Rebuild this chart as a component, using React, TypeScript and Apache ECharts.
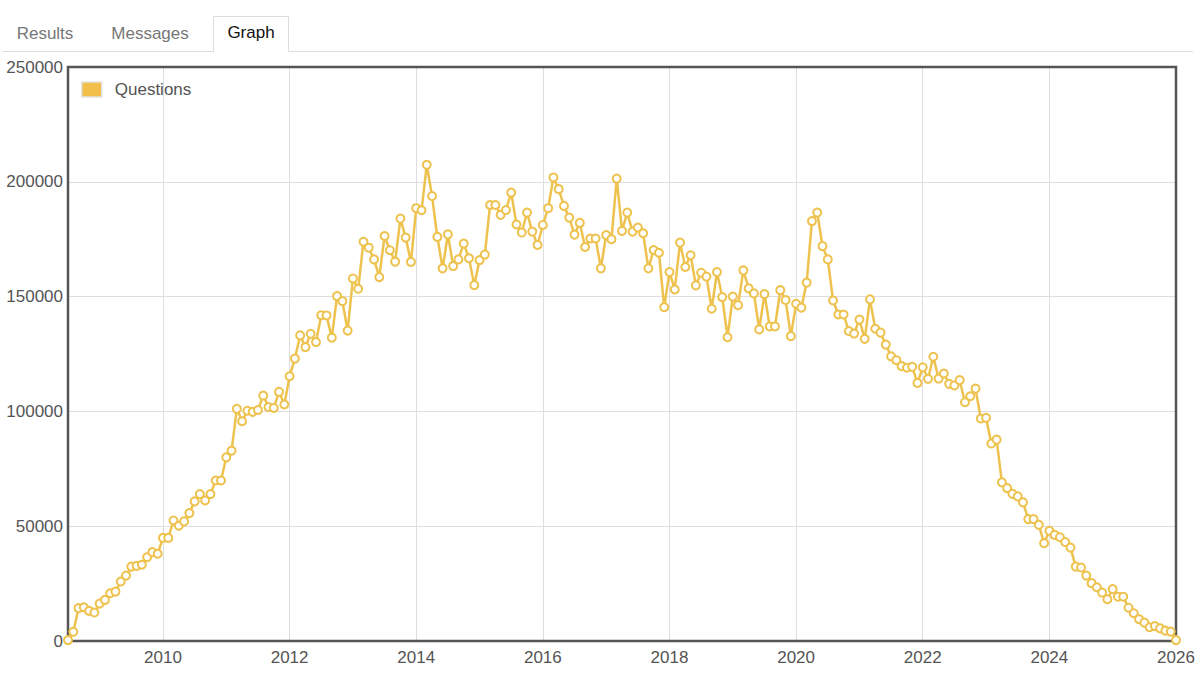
import React, { useEffect, useRef } from "react";
import * as echarts from "echarts";

// Monthly question counts, starting July 2008, ending January 2026
const startYear = 2008;
const startMonth = 7;
const questions: number[] = [
  // 2008 (Jul-Dec)
  400, 4000, 14300, 14700, 13100, 12400,
  // 2009
  16300, 17900, 20800, 21500, 25900, 28500, 32400, 32700, 33200, 36500, 38700, 38000,
  // 2010
  44900, 44900, 52500, 50200, 52100, 55700, 60800, 64000, 61200, 64000, 69900, 69900,
  // 2011
  80000, 82900, 101100, 95700, 100300, 99800, 100600, 106900, 101900, 101500, 108500, 103000,
  // 2012
  115300, 123000, 133100, 128000, 133800, 130200, 141900, 141800, 132100, 150200, 148000, 135200,
  // 2013
  157900, 153400, 173900, 171300, 166200, 158500, 176400, 170200, 165200, 184000, 175700, 165100,
  // 2014
  188500, 187600, 207400, 193800, 176000, 162300, 177100, 163300, 166200, 173100, 166700, 155000,
  // 2015
  165900, 168300, 189900, 189900, 185600, 187700, 195300, 181400, 177900, 186600, 178300, 172500,
  // 2016
  181200, 188500, 201900, 196800, 189500, 184400, 177000, 182100, 171600, 175300, 175300, 162300,
  // 2017
  176800, 175000, 201400, 178600, 186600, 178300, 180100, 177600, 162300, 170300, 169100, 145400,
  // 2018
  160700, 153100, 173500, 162900, 168000, 154900, 160400, 158700, 144700, 160700, 149800, 132300,
  // 2019
  150000, 146300, 161400, 153600, 151400, 135700, 151100, 137000, 137000, 152800, 148500, 132800,
  // 2020
  146900, 145200, 156100, 182900, 186600, 172000, 166200, 148300, 142200, 142200, 135000, 133900,
  // 2021
  140000, 131600, 148800, 136000, 134300, 129100, 124000, 122300, 119700, 119000, 119400, 112400,
  // 2022
  119200, 114200, 123800, 114300, 116500, 112000, 111300, 113600, 104000, 106600, 109900, 96900,
  // 2023
  97200, 86000, 87700, 69100, 66600, 64100, 63000, 60400, 53100, 53100, 50600, 42600,
  // 2024
  48000, 46200, 45200, 43100, 40700, 32400, 32000, 28500, 25200, 23400, 21100, 18200,
  // 2025
  22600, 19300, 19300, 14500, 12100, 9500, 8000, 6000, 6500, 5500, 4500, 4100,
  // 2026
  400,
];

const seriesName = "Questions";
const tabLabels = ["Results", "Messages", "Graph"];
const xMin = 2008.5;
const xMax = 2026;
const yMax = 250000;
const yStep = 50000;

const FONT = "'Liberation Sans', Arial, Helvetica, sans-serif";
const LINE_COLOR = "#eec24e";

const GRID_LEFT = 68;
const GRID_TOP = 67;
const GRID_RIGHT = 24;
const GRID_BOTTOM = 32;
const W = 1200;
const H = 673;

export default function App() {
  const ref = useRef<HTMLDivElement>(null);

  useEffect(() => {
    if (!ref.current) return;
    const chart = echarts.init(ref.current, undefined, { renderer: "svg" });

    const data = questions.map((v, i) => [startYear + (startMonth - 1 + i) / 12, v]);

    chart.setOption({
      animation: false,
      textStyle: { fontFamily: FONT },
      grid: {
        show: false,
        left: GRID_LEFT,
        top: GRID_TOP,
        right: GRID_RIGHT,
        bottom: GRID_BOTTOM,
      },
      legend: {
        show: true,
        left: 76,
        top: 76,
        icon: "rect",
        itemWidth: 20,
        itemHeight: 15,
        textStyle: { fontSize: 17, color: "#545454", fontFamily: FONT, padding: [0, 0, 0, 8] },
        data: [
          {
            name: seriesName,
            itemStyle: { color: "#f2c04a", borderColor: "#e2e2e2", borderWidth: 1.5 },
          },
        ],
      },
      xAxis: {
        type: "value",
        min: xMin,
        max: xMax,
        splitNumber: 9,
        minInterval: 2,
        maxInterval: 2,
        axisLine: { show: false },
        axisTick: { show: false },
        splitLine: { show: true, lineStyle: { color: "#dedede", width: 1 } },
        axisLabel: {
          showMinLabel: false,
          margin: 8,
          fontSize: 17,
          color: "#545454",
          fontFamily: FONT,
          formatter: (v: number) => (Number.isInteger(v) ? String(v) : ""),
        },
      },
      yAxis: {
        type: "value",
        min: 0,
        max: yMax,
        interval: yStep,
        axisLine: { show: false },
        axisTick: { show: false },
        splitLine: { show: true, lineStyle: { color: "#dedede", width: 1 } },
        axisLabel: {
          margin: 5,
          fontSize: 17,
          color: "#545454",
          fontFamily: FONT,
          formatter: (v: number) => String(v),
        },
      },
      series: [
        {
          name: seriesName,
          type: "line",
          data,
          clip: false,
          z: 5,
          symbol: "circle",
          symbolSize: 8,
          showSymbol: true,
          lineStyle: { color: LINE_COLOR, width: 2.5 },
          itemStyle: { color: "#ffffff", borderColor: LINE_COLOR, borderWidth: 2 },
          emphasis: { disabled: true },
        },
      ],
      graphic: [
        {
          type: "rect",
          z: 1,
          shape: { x: GRID_LEFT, y: GRID_TOP, width: W - GRID_LEFT - GRID_RIGHT, height: H - GRID_TOP - GRID_BOTTOM },
          style: { fill: "none", stroke: "#555555", lineWidth: 2.5 },
        },
        {
          type: "line",
          shape: { x1: 2, y1: 51.5, x2: 1193, y2: 51.5 },
          style: { stroke: "#dddddd", lineWidth: 1 },
        },
        {
          type: "rect",
          shape: { x: 213, y: 16, width: 76, height: 37 },
          style: { fill: "#ffffff" },
        },
        {
          type: "polyline",
          shape: { points: [[213.5, 52], [213.5, 16.5], [288.5, 16.5], [288.5, 52]] },
          style: { stroke: "#dddddd", lineWidth: 1, fill: "none" },
        },
        {
          type: "text",
          x: 45,
          y: 33,
          style: { text: tabLabels[0], fill: "#777777", fontSize: 17, fontFamily: FONT, align: "center", verticalAlign: "middle" },
        },
        {
          type: "text",
          x: 150,
          y: 33,
          style: { text: tabLabels[1], fill: "#777777", fontSize: 17, fontFamily: FONT, align: "center", verticalAlign: "middle" },
        },
        {
          type: "text",
          x: 251,
          y: 32,
          style: { text: tabLabels[2], fill: "#111111", fontSize: 17, fontFamily: FONT, align: "center", verticalAlign: "middle" },
        },
      ],
    });

    return () => chart.dispose();
  }, []);

  return (
    <div
      ref={ref}
      style={{ position: "fixed", left: 0, top: 0, width: W, height: H, background: "#ffffff" }}
    />
  );
}
